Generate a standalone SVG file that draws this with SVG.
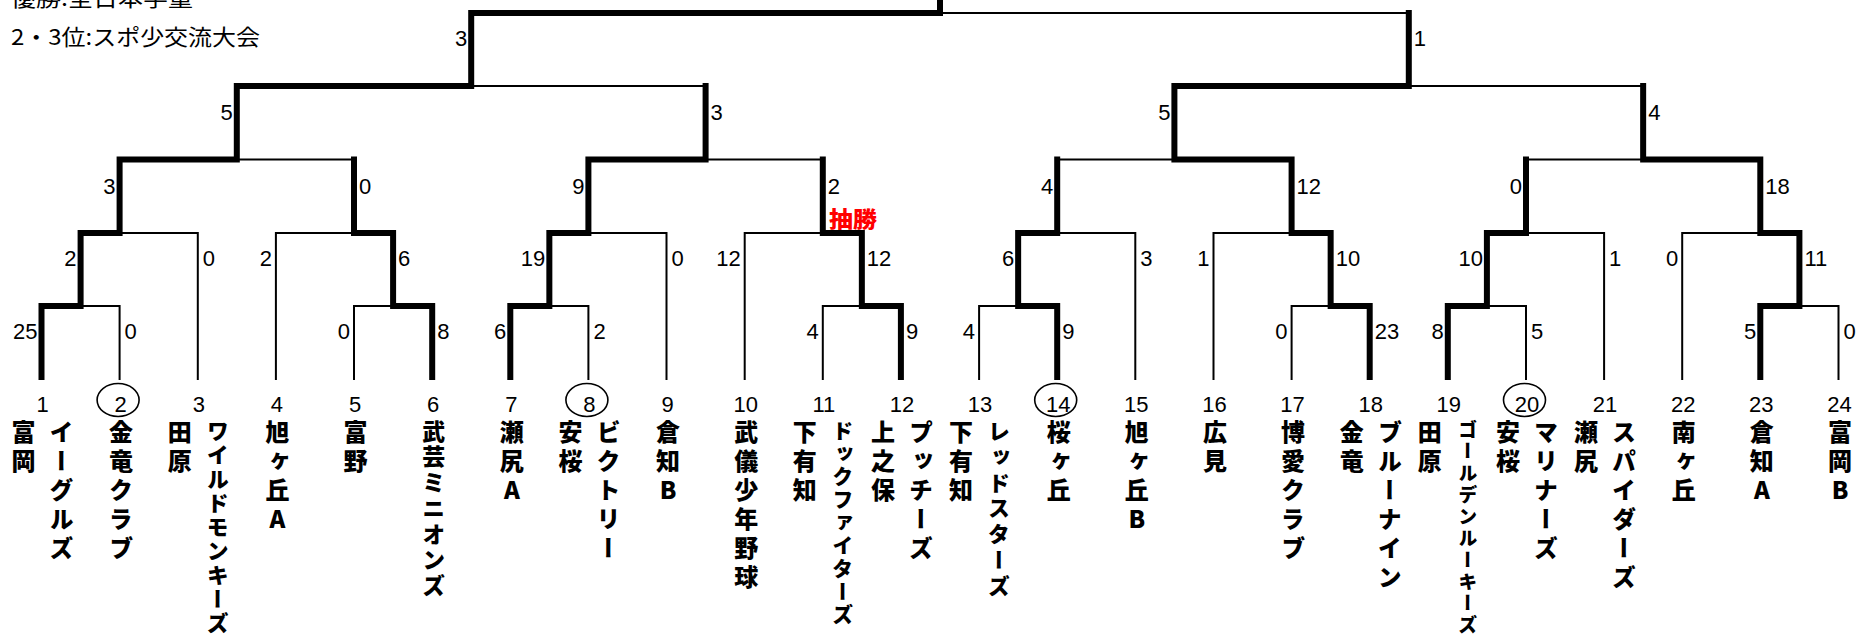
<svg xmlns="http://www.w3.org/2000/svg" width="1858" height="637" viewBox="0 0 1858 637">
<style>
.k{fill:none;stroke:#000;stroke-width:6;stroke-linecap:square;stroke-linejoin:miter}
.t{fill:none;stroke:#000;stroke-width:2;stroke-linecap:square;stroke-linejoin:miter}
.s{font-family:"Liberation Sans",Arial,sans-serif;font-size:22px;fill:#000}
.e{text-anchor:end}
.n{font-family:"Liberation Sans",Arial,sans-serif;font-size:22px;fill:#000;text-anchor:middle}
.c{fill:none;stroke:#000;stroke-width:1.6}
.tn{font-family:"Noto Sans CJK JP","Noto Sans CJK SC",sans-serif;font-weight:900;font-size:24px;letter-spacing:5px;writing-mode:vertical-rl;text-orientation:upright;fill:#000}
.hd{font-family:"Noto Sans CJK JP","Noto Sans CJK SC",sans-serif;font-size:22px;fill:#000}
.red{font-family:"Noto Sans CJK JP","Noto Sans CJK SC",sans-serif;font-weight:900;font-size:22px;fill:#ff0000}
</style>
<rect width="1858" height="637" fill="#fff"/>
<g id="header">
<text class="hd" x="11" y="5.5" textLength="182" lengthAdjust="spacingAndGlyphs">優勝:全日本学童</text>
<text class="hd" x="11" y="45" textLength="249" lengthAdjust="spacingAndGlyphs">2・3位:スポ少交流大会</text>
</g>
<g id="connectors">
<path class="t" d="M119.6 379V306H80.6 M197.8 379V233H119.6 M275.9 379V233H354 M354 379V306H393.1 M354 159.5H236.8 M588.4 379V306H549.35 M666.5 379V233H588.4 M744.7 379V233H822.8 M822.8 379V306H861.85 M822.8 159.5H705.6 M705.6 86H471.2 M979.1 379V306H1018.15 M1135.3 379V233H1057.2 M1057.2 159.5H1174.4 M1213.5 379V233H1291.6 M1291.6 379V306H1330.65 M1526 379V306H1486.9 M1604.1 379V233H1526 M1526 159.5H1643.15 M1682.2 379V233H1760.3 M1838.5 379V306H1799.4 M1643.15 86H1408.8 M1408.8 13H940"/>
<path class="k" d="M41.5 377V306H80.6V233H119.6V159.5H236.8V86H471.2V13H940V-5"/>
<path class="k" d="M432.2 377V306H393.1V233H354V159.5"/>
<path class="k" d="M510.3 377V306H549.35V233H588.4V159.5H705.6V86"/>
<path class="k" d="M900.9 377V306H861.85V233H822.8V159.5"/>
<path class="k" d="M1057.2 377V306H1018.15V233H1057.2V159.5"/>
<path class="k" d="M1369.7 377V306H1330.65V233H1291.6V159.5H1174.4V86H1408.8V13"/>
<path class="k" d="M1447.8 377V306H1486.9V233H1526V159.5"/>
<path class="k" d="M1760.3 377V306H1799.4V233H1760.3V159.5H1643.15V86"/>
</g>
<g id="scores">
<text class="s e" x="37.5" y="339">25</text>
<text class="s" x="124.6" y="339">0</text>
<text class="s e" x="350" y="339">0</text>
<text class="s" x="437.2" y="339">8</text>
<text class="s e" x="506.3" y="339">6</text>
<text class="s" x="593.4" y="339">2</text>
<text class="s e" x="818.8" y="339">4</text>
<text class="s" x="905.9" y="339">9</text>
<text class="s e" x="975.1" y="339">4</text>
<text class="s" x="1062.2" y="339">9</text>
<text class="s e" x="1287.6" y="339">0</text>
<text class="s" x="1374.7" y="339">23</text>
<text class="s e" x="1443.8" y="339">8</text>
<text class="s" x="1531" y="339">5</text>
<text class="s e" x="1756.3" y="339">5</text>
<text class="s" x="1843.5" y="339">0</text>
<text class="s e" x="76.6" y="266">2</text>
<text class="s" x="202.8" y="266">0</text>
<text class="s e" x="271.9" y="266">2</text>
<text class="s" x="398.1" y="266">6</text>
<text class="s e" x="545.35" y="266">19</text>
<text class="s" x="671.5" y="266">0</text>
<text class="s e" x="740.7" y="266">12</text>
<text class="s" x="866.85" y="266">12</text>
<text class="s e" x="1014.15" y="266">6</text>
<text class="s" x="1140.3" y="266">3</text>
<text class="s e" x="1209.5" y="266">1</text>
<text class="s" x="1335.65" y="266">10</text>
<text class="s e" x="1482.9" y="266">10</text>
<text class="s" x="1609.1" y="266">1</text>
<text class="s e" x="1678.2" y="266">0</text>
<text class="s" x="1804.4" y="266">11</text>
<text class="s e" x="115.6" y="194">3</text>
<text class="s" x="359" y="194">0</text>
<text class="s e" x="584.4" y="194">9</text>
<text class="s" x="827.8" y="194">2</text>
<text class="s e" x="1053.2" y="194">4</text>
<text class="s" x="1296.6" y="194">12</text>
<text class="s e" x="1522" y="194">0</text>
<text class="s" x="1765.3" y="194">18</text>
<text class="s e" x="232.8" y="119.5">5</text>
<text class="s" x="710.6" y="119.5">3</text>
<text class="s e" x="1170.4" y="119.5">5</text>
<text class="s" x="1648.15" y="119.5">4</text>
<text class="s e" x="467.2" y="45.5">3</text>
<text class="s" x="1413.8" y="45.5">1</text>
<text class="red" x="829" y="227" textLength="48" lengthAdjust="spacingAndGlyphs">抽勝</text>
</g>
<g id="team-1"><text class="n" x="42.5" y="411.5">1</text><text class="tn" x="23.5" y="419.5">富岡</text><text class="tn" x="61.5" y="419.5">イーグルズ</text></g>
<g id="team-2"><ellipse class="c" cx="118.1" cy="400" rx="21" ry="16.5"/><text class="n" x="120.6" y="411.5">2</text><text class="tn" x="121.1" y="419.5">金竜クラブ</text></g>
<g id="team-3"><text class="n" x="198.8" y="411.5">3</text><text class="tn" x="179.8" y="419.5">田原</text><text class="tn" x="217.8" y="420" style="font-size:22px;letter-spacing:2px">ワイルドモンキーズ</text></g>
<g id="team-4"><text class="n" x="276.9" y="411.5">4</text><text class="tn" x="277.4" y="419.5">旭ヶ丘A</text></g>
<g id="team-5"><text class="n" x="355" y="411.5">5</text><text class="tn" x="355.5" y="419.5">富野</text></g>
<g id="team-6"><text class="n" x="433.2" y="411.5">6</text><text class="tn" x="433.7" y="419.5" style="font-size:23px;letter-spacing:2.7px">武芸ミニオンズ</text></g>
<g id="team-7"><text class="n" x="511.3" y="411.5">7</text><text class="tn" x="511.8" y="419.5">瀬尻A</text></g>
<g id="team-8"><ellipse class="c" cx="586.9" cy="400" rx="21" ry="16.5"/><text class="n" x="589.4" y="411.5">8</text><text class="tn" x="570.4" y="419.5">安桜</text><text class="tn" x="608.4" y="419.5">ビクトリー</text></g>
<g id="team-9"><text class="n" x="667.5" y="411.5">9</text><text class="tn" x="668" y="419.5">倉知B</text></g>
<g id="team-10"><text class="n" x="745.7" y="411.5">10</text><text class="tn" x="746.2" y="419.5">武儀少年野球</text></g>
<g id="team-11"><text class="n" x="823.8" y="411.5">11</text><text class="tn" x="804.8" y="419.5">下有知</text><text class="tn" x="842.8" y="420" style="font-size:21px;letter-spacing:2px">ドックファイターズ</text></g>
<g id="team-12"><text class="n" x="901.9" y="411.5">12</text><text class="tn" x="882.9" y="419.5">上之保</text><text class="tn" x="920.9" y="419.5">プッチーズ</text></g>
<g id="team-13"><text class="n" x="980.1" y="411.5">13</text><text class="tn" x="961.1" y="419.5">下有知</text><text class="tn" x="999.1" y="420" style="font-size:22px;letter-spacing:3.7px">レッドスターズ</text></g>
<g id="team-14"><ellipse class="c" cx="1055.7" cy="400" rx="21" ry="16.5"/><text class="n" x="1058.2" y="411.5">14</text><text class="tn" x="1058.7" y="419.5">桜ヶ丘</text></g>
<g id="team-15"><text class="n" x="1136.3" y="411.5">15</text><text class="tn" x="1136.8" y="419.5">旭ヶ丘B</text></g>
<g id="team-16"><text class="n" x="1214.5" y="411.5">16</text><text class="tn" x="1215" y="419.5">広見</text></g>
<g id="team-17"><text class="n" x="1292.6" y="411.5">17</text><text class="tn" x="1293.1" y="419.5">博愛クラブ</text></g>
<g id="team-18"><text class="n" x="1370.7" y="411.5">18</text><text class="tn" x="1351.7" y="419.5">金竜</text><text class="tn" x="1389.7" y="419.5">ブルーナイン</text></g>
<g id="team-19"><text class="n" x="1448.8" y="411.5">19</text><text class="tn" x="1429.8" y="419.5">田原</text><text class="tn" x="1467.8" y="420" style="font-size:19px;letter-spacing:2.7px">ゴールデンルーキーズ</text></g>
<g id="team-20"><ellipse class="c" cx="1524.5" cy="400" rx="21" ry="16.5"/><text class="n" x="1527" y="411.5">20</text><text class="tn" x="1508" y="419.5">安桜</text><text class="tn" x="1546" y="419.5">マリナーズ</text></g>
<g id="team-21"><text class="n" x="1605.1" y="411.5">21</text><text class="tn" x="1586.1" y="419.5">瀬尻</text><text class="tn" x="1624.1" y="419.5">スパイダーズ</text></g>
<g id="team-22"><text class="n" x="1683.2" y="411.5">22</text><text class="tn" x="1683.7" y="419.5">南ヶ丘</text></g>
<g id="team-23"><text class="n" x="1761.3" y="411.5">23</text><text class="tn" x="1761.8" y="419.5">倉知A</text></g>
<g id="team-24"><text class="n" x="1839.5" y="411.5">24</text><text class="tn" x="1840" y="419.5">富岡B</text></g>
</svg>
